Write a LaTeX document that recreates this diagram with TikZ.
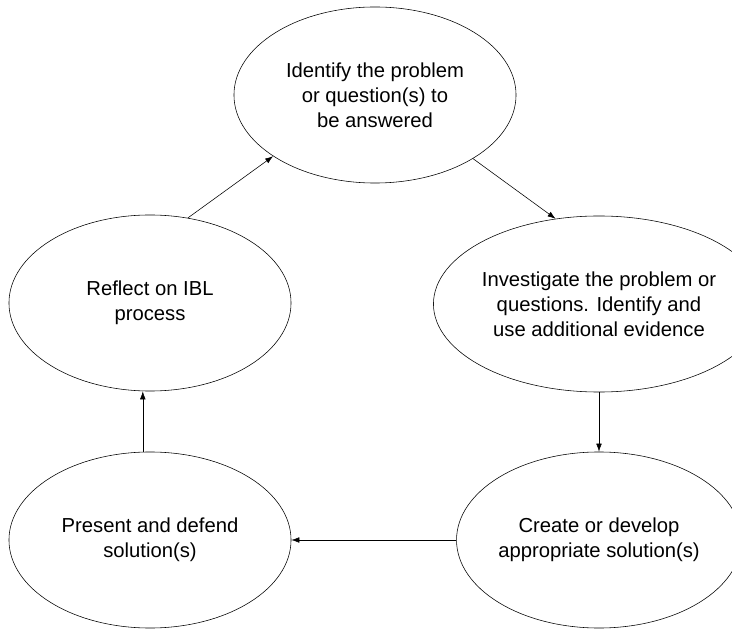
\documentclass[tikz,border=0pt]{standalone}
\usepackage{fontspec}
\setmainfont{Liberation Sans}
\usetikzlibrary{arrows.meta,shapes.geometric}

\tikzset{
  stage/.style={draw, ellipse, inner sep=0pt, minimum width=7.05cm,
    minimum height=4.4cm, align=center,
    font=\fontsize{14.4}{17.8}\selectfont},
  flow/.style={-{Latex[length=2mm,width=1.4mm]}}
}

\begin{document}
\begin{tikzpicture}[x=0.025cm, y=-0.025cm]
  \useasboundingbox (0,0) rectangle (732,630);

  % the five stages
  \node[stage] (identify) at (375,95) {Identify the problem\\or question(s) to\\be answered};
  \node[stage] (investigate) at (599,304) {Investigate the problem or\\questions. Identify and\\use additional evidence};
  \node[stage] (create) at (599,540) {Create or develop\\appropriate solution(s)};
  \node[stage] (present) at (150,540) {Present and defend\\solution(s)};
  \node[stage] (reflect) at (150,303) {Reflect on IBL\\process};

  % the cycle
  \draw[flow] (reflect.66) -- (identify.211);
  \draw[flow] (identify.-33) -- (investigate.117);
  \draw[flow] (investigate) -- (create);
  \draw[flow] (create) -- (present);
  \draw[flow] ([xshift=-0.18cm]present.north) -- ([xshift=-0.18cm]reflect.south);
\end{tikzpicture}
\end{document}
